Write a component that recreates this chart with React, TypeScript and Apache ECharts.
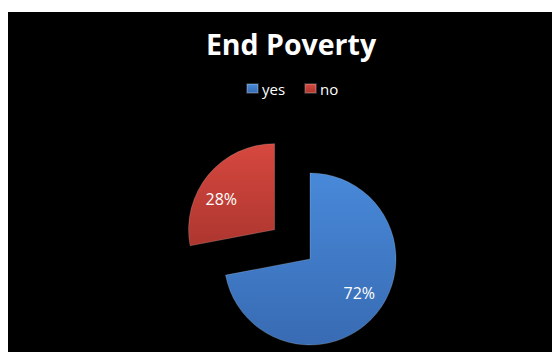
import React, { useEffect, useRef } from "react";
import * as echarts from "echarts";

const titleText = "End Poverty";
const categories = ["yes", "no"];
const values = [72, 28];
const explodedCategory = "no";

const colorTop = ["#4889d9", "#d6483f"];
const colorBottom = ["#386bb3", "#ad362f"];
const labelOffsets = [
  [0, -7],
  [-4, 10],
];

export default function App() {
  const ref = useRef<HTMLDivElement>(null);

  useEffect(() => {
    if (!ref.current) return;
    const chart = echarts.init(ref.current, undefined, { renderer: "svg" });
    const font = "'Open Sans', 'DejaVu Sans', sans-serif";

    const pieData = categories.map((name, i) => ({
      name,
      value: values[i],
      selected: name === explodedCategory,
      itemStyle: {
        color: new echarts.graphic.LinearGradient(0, 0, 0, 1, [
          { offset: 0, color: colorTop[i] },
          { offset: 1, color: colorBottom[i] },
        ]),
        borderColor: "rgba(255,255,255,0.18)",
        borderWidth: 1,
      },
    }));

    const labelData = categories.map((name, i) => ({
      name,
      value: values[i],
      selected: name === explodedCategory,
      label: { offset: labelOffsets[i] },
      select: { label: { offset: labelOffsets[i] } },
    }));

    chart.setOption({
      animation: false,
      backgroundColor: "#000000",
      title: {
        text: titleText,
        left: 278,
        top: 12,
        textAlign: "center",
        textStyle: {
          color: "#ffffff",
          fontSize: 28.5,
          fontWeight: "bold",
          fontFamily: font,
        },
      },
      legend: {
        data: categories,
        left: 238,
        top: 69,
        padding: 0,
        icon: "rect",
        itemWidth: 11,
        itemHeight: 9,
        itemGap: 19,
        textStyle: { color: "#ffffff", fontSize: 15, fontFamily: font, padding: [0, 0, 0, -1] },
        selectedMode: false,
      },
      series: [
        {
          type: "pie",
          radius: 86,
          center: [302, 247],
          startAngle: 90,
          clockwise: true,
          selectedMode: "single",
          selectedOffset: 46,
          label: { show: false },
          labelLine: { show: false },
          emphasis: { disabled: true },
          data: pieData,
        },
        {
          type: "pie",
          radius: 122,
          center: [302, 247],
          startAngle: 90,
          clockwise: true,
          silent: true,
          selectedMode: "single",
          selectedOffset: 46,
          itemStyle: { color: "rgba(0,0,0,0)" },
          label: {
            show: true,
            position: "inside",
            formatter: "{c}%",
            color: "#ffffff",
            fontSize: 16,
            fontFamily: font,
          },
          labelLine: { show: false },
          emphasis: { disabled: true },
          data: labelData,
        },
      ],
    });

    return () => chart.dispose();
  }, []);

  return (
    <div style={{ paddingTop: 4 }}>
      <div ref={ref} style={{ width: 552, height: 340 }} />
    </div>
  );
}
